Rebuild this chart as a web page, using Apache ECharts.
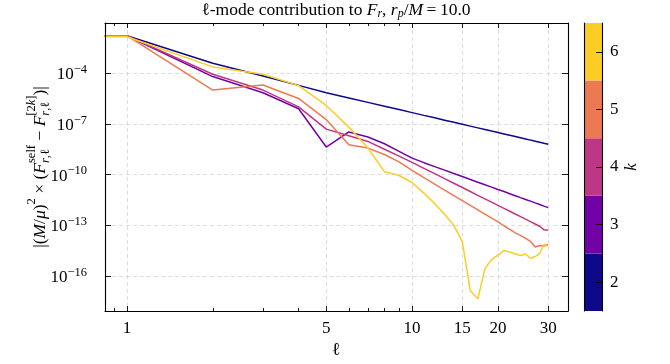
<!DOCTYPE html>
<html><head><meta charset="utf-8">
<script src="https://cdn.jsdelivr.net/npm/echarts@6/dist/echarts.min.js"></script>
<style>html,body{margin:0;padding:0;background:#fff}#c{width:670px;height:364px}</style>
</head><body><div id="c"></div>
<script>
// ---- data ----
const ells = [0,1,2,3,4,5,6,7,8,9,10,11,12,13,14,15,16,17,18,19,20,21,22,23,24,25,26,27,28,29,30];
const kValues = [2,3,4,5,6];
const k2 = [1.67e-2,1.67e-2,3.94e-4,6.90e-5,1.92e-5,7.06e-6,3.46e-6,1.89e-6,1.12e-6,7.05e-7,4.67e-7,3.21e-7,2.29e-7,1.67e-7,1.25e-7,9.55e-8,7.40e-8,5.83e-8,4.66e-8,3.77e-8,3.09e-8,2.55e-8,2.12e-8,1.78e-8,1.51e-8,1.29e-8,1.10e-8,9.51e-9,8.24e-9,7.18e-9,6.31e-9];
const k3 = [1.67e-2,1.67e-2,6.35e-5,7.06e-6,7.85e-7,4.26e-9,3.34e-8,1.68e-8,6.70e-9,2.39e-9,9.40e-10,5.07e-10,2.97e-10,1.84e-10,1.17e-10,7.62e-11,5.12e-11,3.53e-11,2.51e-11,1.80e-11,1.31e-11,9.86e-12,7.38e-12,5.61e-12,4.32e-12,3.38e-12,2.67e-12,2.12e-12,1.70e-12,1.36e-12,1.11e-12];
const k4 = [1.67e-2,1.67e-2,8.71e-5,1.01e-5,1.03e-6,4.91e-8,2.01e-8,9.18e-9,3.15e-9,1.24e-9,5.28e-10,2.35e-10,1.13e-10,5.71e-11,3.08e-11,1.71e-11,9.98e-12,5.93e-12,3.66e-12,2.33e-12,1.50e-12,9.95e-13,6.77e-13,4.61e-13,3.23e-13,2.29e-13,1.65e-13,1.19e-13,8.75e-14,5.33e-14,4.99e-14];
const k5 = [1.67e-2,1.67e-2,1.01e-5,2.00e-5,3.23e-6,1.81e-7,5.83e-9,3.71e-9,1.54e-9,5.66e-10,1.76e-10,6.55e-11,2.72e-11,1.21e-11,5.69e-12,2.86e-12,1.48e-12,8.10e-13,4.55e-13,2.63e-13,1.56e-13,9.25e-14,5.72e-14,3.54e-14,2.51e-14,1.66e-14,1.10e-14,5.18e-15,6.36e-15,5.94e-15,7.29e-15];
const k6 = [1.45e-2,1.45e-2,2.38e-4,8.71e-5,1.85e-5,1.24e-6,6.46e-8,3.71e-9,1.49e-10,8.85e-11,3.39e-11,8.02e-12,1.90e-12,4.49e-13,9.91e-14,1.03e-14,1.32e-17,4.40e-18,2.70e-16,9.30e-16,1.72e-15,3.20e-15,2.61e-15,1.98e-15,1.61e-15,1.98e-15,1.07e-15,1.40e-15,2.12e-15,7.29e-15,5.55e-15];
const seriesValues = [k2,k3,k4,k5,k6];
const xMajorTicks = [1,5,10,15,20,30];
const xMinorTicks = [0.9,2,3,4,6,7,8,9];
const yMajorTicks = [1e-16,1e-13,1e-10,1e-7,1e-4];

// ---- styling ----
const kColors = ['#0d0887','#7201a8','#bd3786','#ed7953','#fccd25'];
const X_MIN = 0.838, X_MAX = 35.2;
const Y_MIN = 8.35e-19, Y_MAX = 9.46e-2;
const FONT = "'Liberation Serif','DejaVu Serif',serif";

const cv = document.createElement('canvas').getContext('2d');
function tw(t, s, it){ cv.font = (it?'italic ':'') + s + 'px ' + FONT; return cv.measureText(t).width; }
function layout(runs){
  let x = 0; const out = [];
  for (const r of runs){
    if (r.stack){
      let mw = 0;
      for (const line of r.stack){
        let xx = x;
        for (const q of line.runs){ out.push({t:q.t,s:q.s,i:q.i,x:xx,dy:line.dy}); xx += tw(q.t,q.s,q.i); }
        mw = Math.max(mw, xx - x);
      }
      x += mw;
    } else { out.push({t:r.t,s:r.s,i:r.i,x:x,dy:r.dy||0}); x += tw(r.t,r.s,r.i); }
  }
  return {items:out, width:x};
}
function textGroup(runs, cx, cy, rotation){
  const L = layout(runs);
  return {type:'group', x:cx, y:cy, rotation:rotation||0, silent:true,
    children: L.items.map(it => ({type:'text', x: it.x - L.width/2, y: it.dy,
      style:{text:it.t, fontFamily:FONT, fontSize:it.s, fontStyle: it.i?'italic':'normal', fill:'#000', align:'left', verticalAlign:'middle'}}))};
}
const T = 17.5, ts = 12;
const titleRuns = [
  {t:'\u2113',s:T},{t:'-mode contribution to ',s:T},{t:'F',s:T,i:true},{t:'r',s:ts,i:true,dy:4},
  {t:', ',s:T},{t:'r',s:T,i:true},{t:'p',s:ts,i:true,dy:4},{t:'/',s:T},{t:'M',s:T,i:true},{t:'\u2009=\u200910.0',s:T}
];
const S = 17.5, ss = 12.5;
const rl = [{t:'r',s:ss,i:true},{t:',',s:ss},{t:'\u2113',s:ss}];
const ylabRuns = [
  {t:'|(',s:S},{t:'M',s:S,i:true},{t:'/',s:S},{t:'\u03bc',s:S,i:true},{t:')',s:S},{t:'2',s:ss,dy:-8},
  {t:' \u00d7 (',s:S},{t:'F',s:S,i:true},
  {stack:[{dy:-8,runs:[{t:'self',s:ss}]},{dy:6,runs:rl}]},
  {t:' \u2212 ',s:S},{t:'F',s:S,i:true},
  {stack:[{dy:-8,runs:[{t:'[2',s:ss},{t:'k',s:ss,i:true},{t:']',s:ss}]},{dy:6,runs:rl}]},
  {t:')|',s:S}
];

const chart = echarts.init(document.getElementById('c'), null, {renderer:'canvas'});
const gridLine = {show:true, lineStyle:{color:'#d4d4d4', type:[4,3], width:0.8}};
const blackLine = {show:true, onZero:false, lineStyle:{color:'#000', width:1.1}};
const tickStyle = {color:'#000', width:0.9};
function yLab(v){ const e = Math.round(Math.log10(v)); return '{b|10}{s|\u2212' + (-e) + '}'; }

const option = {
  animation:false,
  backgroundColor:'#fff',
  grid:[
    {left:105, top:23, width:463, height:288, containLabel:false, outerBoundsMode:'none'},
    {left:584, top:23, width:18, height:288, containLabel:false, outerBoundsMode:'none'}
  ],
  xAxis:[
    {type:'log', logBase:10, gridIndex:0, min:X_MIN, max:X_MAX, position:'bottom', z:10,
     axisLine:blackLine, axisTick:{show:true, inside:true, length:5, customValues:xMajorTicks, lineStyle:tickStyle},
     axisLabel:{show:true, customValues:xMajorTicks, formatter:v=>String(Math.round(v)), color:'#000', fontFamily:FONT, fontSize:17, margin:9},
     splitLine:{show:false}, minorTick:{show:false}},
    {type:'log', logBase:10, gridIndex:0, min:X_MIN, max:X_MAX, position:'bottom', z:10,
     axisLine:{show:false}, axisTick:{show:true, inside:true, length:3, customValues:xMinorTicks, lineStyle:tickStyle},
     axisLabel:{show:false, customValues:xMinorTicks}, splitLine:{show:false}},
    {type:'log', logBase:10, gridIndex:0, min:X_MIN, max:X_MAX, position:'top', z:10,
     axisLine:blackLine, axisTick:{show:true, inside:true, length:5, customValues:xMajorTicks, lineStyle:tickStyle},
     axisLabel:{show:false, customValues:xMajorTicks}, splitLine:{show:false}},
    {type:'log', logBase:10, gridIndex:0, min:X_MIN, max:X_MAX, position:'top', z:10,
     axisLine:{show:false}, axisTick:{show:true, inside:true, length:3, customValues:xMinorTicks, lineStyle:tickStyle},
     axisLabel:{show:false, customValues:xMinorTicks}, splitLine:{show:false}},
    {type:'log', logBase:10, gridIndex:0, min:X_MIN, max:X_MAX, position:'bottom', z:0,
     axisLine:{show:false}, axisTick:{show:false, customValues:xMajorTicks}, axisLabel:{show:false, customValues:xMajorTicks},
     splitLine:gridLine},
    {type:'value', gridIndex:1, min:0, max:1, show:false}
  ],
  yAxis:[
    {type:'log', logBase:10, gridIndex:0, min:Y_MIN, max:Y_MAX, position:'left', z:10,
     axisLine:blackLine, axisTick:{show:true, inside:true, length:6, customValues:yMajorTicks, lineStyle:tickStyle},
     axisLabel:{show:true, customValues:yMajorTicks, formatter:yLab, margin:18, color:'#000',
       rich:{b:{fontFamily:FONT, fontSize:17, lineHeight:20, verticalAlign:'bottom', color:'#000'},
             s:{fontFamily:FONT, fontSize:12.5, lineHeight:10, verticalAlign:'top', color:'#000'}}},
     splitLine:{show:false}, minorTick:{show:false}},
    {type:'log', logBase:10, gridIndex:0, min:Y_MIN, max:Y_MAX, position:'right', z:10,
     axisLine:blackLine, axisTick:{show:true, inside:true, length:6, customValues:yMajorTicks, lineStyle:tickStyle},
     axisLabel:{show:false, customValues:yMajorTicks}, splitLine:{show:false}},
    {type:'log', logBase:10, gridIndex:0, min:Y_MIN, max:Y_MAX, position:'left', z:0,
     axisLine:{show:false}, axisTick:{show:false, customValues:yMajorTicks}, axisLabel:{show:false, customValues:yMajorTicks},
     splitLine:gridLine},
    {type:'value', gridIndex:1, min:1.5, max:6.5, position:'right', z:10,
     axisLine:blackLine, axisTick:{show:true, inside:true, length:6, customValues:kValues, lineStyle:tickStyle},
     axisLabel:{show:true, customValues:kValues, color:'#000', fontFamily:FONT, fontSize:17, margin:8},
     splitLine:{show:false},
     name:'k', nameLocation:'middle', nameRotate:90, nameGap:21,
     nameTextStyle:{fontFamily:FONT, fontSize:17, fontStyle:'italic', color:'#000'}},
    {type:'value', gridIndex:1, min:1.5, max:6.5, position:'left', z:10,
     axisLine:blackLine, axisTick:{show:false}, axisLabel:{show:false}, splitLine:{show:false}}
  ],
  series: seriesValues.map((vals, i) => ({
    type:'line', xAxisIndex:0, yAxisIndex:0, name:'k=' + kValues[i],
    data: ells.map((l, j) => [Math.max(l, X_MIN / 2), vals[j]]),
    symbol:'none', showSymbol:false, clip:true, z:2 + i,
    lineStyle:{color:kColors[i], width:1.5}, itemStyle:{color:kColors[i]}
  })).concat([{
    type:'custom', xAxisIndex:5, yAxisIndex:3, clip:true, z:1,
    data: kValues.map(k => [0, k]),
    renderItem:(params, api) => {
      const k = api.value(1);
      const p0 = api.coord([0, k - 0.5]), p1 = api.coord([1, k + 0.5]);
      return {type:'rect', shape:{x:p0[0], y:p1[1], width:p1[0]-p0[0], height:p0[1]-p1[1]},
              style:{fill:kColors[params.dataIndex]}};
    }
  }, {
    type:'line', xAxisIndex:5, yAxisIndex:4, data:[], silent:true
  }]),
  graphic:[
    textGroup(titleRuns, 336, 10, 0),
    textGroup(ylabRuns, 40, 167, Math.PI/2),
    textGroup([{t:'\u2113', s:18}], 336, 350, 0)
  ]
};
chart.setOption(option);
</script></body></html>
